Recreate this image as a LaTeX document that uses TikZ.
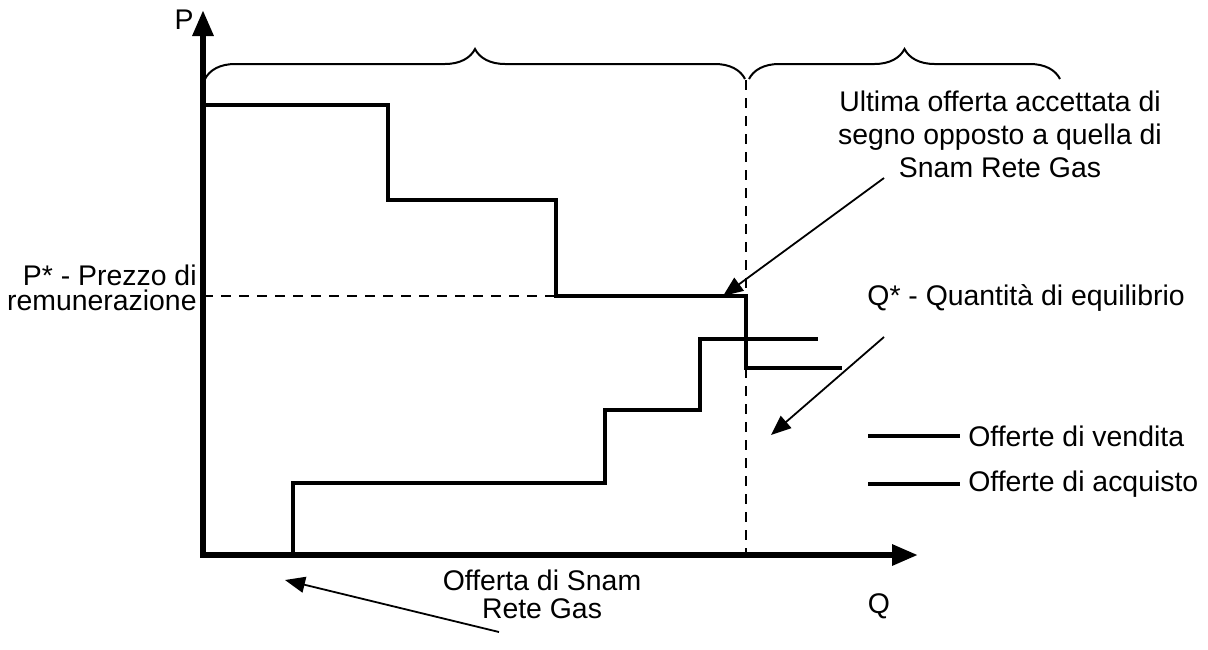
\documentclass[tikz,border=0pt]{standalone}
\usepackage{fontspec}
\setmainfont{Liberation Sans}
\usetikzlibrary{arrows.meta,decorations.pathreplacing,positioning}

\begin{document}
\begin{tikzpicture}[x=0.5pt, y=-0.5pt,
    every node/.style={font=\fontsize{14.2}{16}\selectfont, inner sep=0pt},
    axis/.style={line width=3pt, -{Triangle[length=13pt,width=10pt]}},
    steps/.style={line width=2.3pt, line join=miter},
    guide/.style={line width=0.8pt, dash pattern=on 5pt off 4pt},
    pointer/.style={line width=0.9pt, -{Triangle[length=10pt,width=8pt]}},
    curly/.style={line width=1pt, decorate, decoration={brace, amplitude=15pt}}]

\useasboundingbox (0,0) rectangle (1208,649);

% axes
\coordinate (O) at (203,555);
\coordinate (ytip) at (203,10);
\coordinate (xtip) at (918,555);
\draw[guide] (203,296) -- (556,296);
\draw[guide] (746,80) -- (746,555);
\draw[axis] (O) -- (ytip);
\draw[axis] (200,555) -- (xtip);
\node[anchor=east] (plabel) at (194,20) {P};
\node (qlabel) at (879,606) {Q};

% braces
\draw[curly] (205,79) -- (745,79);
\draw[curly] (749,79) -- (1060,79);

% offerte di vendita
\draw[steps] (203,105) -- (388,105) -- (388,200) -- (556,200) -- (556,296)
    -- (746,296) -- (746,368) -- (842,368);
% offerte di acquisto
\draw[steps] (203,555) -- (293,555) -- (293,483) -- (605,483) -- (605,410)
    -- (700,410) -- (700,339) -- (818,339);

% labels
\node[anchor=east, align=right, font=\fontsize{14.2}{12.8}\selectfont] (pstar) at (197,288)
    {P* - Prezzo di\\remunerazione};
\node[align=center, font=\fontsize{14.2}{16.5}\selectfont] (ultima) at (1000,134)
    {Ultima offerta accettata di\\segno opposto a quella di\\Snam Rete Gas};
\node[anchor=west] (qstar) at (867,298) {Q* - Quantità di equilibrio};
\node[align=center, font=\fontsize{14.2}{14}\selectfont] (snam) at (542,594)
    {Offerta di Snam\\Rete Gas};

% frecce
\coordinate (ultimafrom) at (884,178);
\coordinate (ultimato) at (723,296);
\coordinate (qfrom) at (884,337);
\coordinate (qto) at (771,435);
\coordinate (snamfrom) at (499,632);
\coordinate (snamto) at (285,580);
\draw[pointer] (ultimafrom) -- (ultimato);
\draw[pointer] (qfrom) -- (qto);
\draw[pointer] (snamfrom) -- (snamto);

% legenda
\coordinate (vend) at (868,436);
\coordinate (acq) at (868,484);
\draw[steps] (vend) -- ++(92,0) node[anchor=west, xshift=3pt] (vendtxt) {Offerte di vendita};
\draw[steps] (acq) -- ++(92,0) node[anchor=west, xshift=3pt] (acqtxt) {Offerte di acquisto};
\end{tikzpicture}
\end{document}
